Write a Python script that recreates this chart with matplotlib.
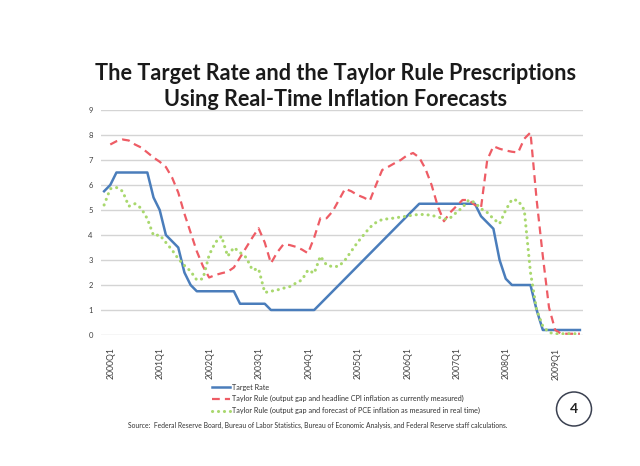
import numpy as np
import matplotlib
matplotlib.use("Agg")
from matplotlib import pyplot as plt
from matplotlib import patches, transforms

# one value per FOMC meeting (8 a year), 2000 to late 2009
target_rate = [5.75, 6.0, 6.5, 6.5, 6.5, 6.5, 6.5, 6.5,
               5.5, 5.0, 4.0, 3.75, 3.5, 2.5, 2.0, 1.75,
               1.75, 1.75, 1.75, 1.75, 1.75, 1.75, 1.25, 1.25,
               1.25, 1.25, 1.25, 1.0, 1.0, 1.0, 1.0, 1.0,
               1.0, 1.0, 1.0, 1.25, 1.5, 1.75, 2.0, 2.25,
               2.5, 2.75, 3.0, 3.25, 3.5, 3.75, 4.0, 4.25,
               4.5, 4.75, 5.0, 5.25, 5.25, 5.25, 5.25, 5.25,
               5.25, 5.25, 5.25, 5.25, 5.25, 4.75, 4.5, 4.25,
               3.0, 2.25, 2.0, 2.0, 2.0, 2.0, 1.0, 0.2,
               0.2, 0.2, 0.2, 0.2, 0.2, 0.2]

taylor_cpi = [np.nan, 7.62, 7.75, 7.82, 7.78, 7.62, 7.5, 7.3,
              7.1, 6.93, 6.72, 6.3, 5.7, 4.85, 4.1, 3.35,
              2.75, 2.3, 2.4, 2.47, 2.53, 2.7, 3.1, 3.5,
              3.9, 4.27, 3.7, 2.87, 3.3, 3.62, 3.6, 3.53,
              3.42, 3.27, 3.9, 4.67, 4.67, 4.95, 5.4, 5.85,
              5.75, 5.6, 5.5, 5.37, 6.0, 6.6, 6.73, 6.87,
              7.0, 7.18, 7.28, 7.1, 6.65, 6.0, 5.15, 4.55,
              4.9, 5.15, 5.4, 5.4, 5.2, 5.1, 7.0, 7.55,
              7.45, 7.38, 7.33, 7.3, 7.85, 8.1, 5.4, 3.15,
              1.1, 0.2, 0.05, 0.05, 0.05, 0.05]

taylor_pce = [5.2, 5.85, 5.9, 5.75, 5.15, 5.25, 5.07, 4.65,
              3.98, 4.0, 3.7, 3.4, 3.05, 2.78, 2.55, 2.2,
              2.25, 3.2, 3.7, 3.95, 3.15, 3.5, 3.3, 3.1,
              2.6, 2.65, 1.7, 1.75, 1.8, 1.87, 1.93, 2.07,
              2.2, 2.6, 2.47, 3.15, 2.8, 2.73, 2.75, 3.0,
              3.35, 3.7, 4.0, 4.3, 4.5, 4.62, 4.65, 4.68,
              4.72, 4.75, 4.8, 4.82, 4.82, 4.78, 4.73, 4.63,
              4.68, 4.9, 5.1, 5.4, 5.3, 5.05, 4.9, 4.65,
              4.45, 5.0, 5.42, 5.38, 5.0, 2.5, 1.0, 0.35,
              0.1, 0.05, 0.05, 0.05, 0.05, 0.05]

year_labels = ["2000Q1", "2001Q1", "2002Q1", "2003Q1", "2004Q1",
               "2005Q1", "2006Q1", "2007Q1", "2008Q1", "2009Q1"]

legend_labels = ["Target Rate",
                 "Taylor Rule (output gap and headline CPI inflation as currently measured)",
                 "Taylor Rule (output gap and forecast of PCE inflation as measured in real time)"]

plt.rcParams['font.family'] = ['Lato', 'DejaVu Sans']

fig = plt.figure(figsize=(6.4, 4.66), dpi=100)
ax = fig.add_axes([101 / 640, 1 - 335 / 466, 482 / 640, 225 / 466])

x = np.arange(len(target_rate))
l1, = ax.plot(x, target_rate, color="#4a7dbb", lw=1.8, solid_joinstyle="round")
l2, = ax.plot(x, taylor_cpi, color="#ee5c65", lw=1.6, dashes=[3.5, 2.3])
l3, = ax.plot(x, taylor_pce, color="#a9d86e", lw=2.2, dashes=[0.05, 1.9],
              dash_capstyle="round")

ax.set_xlim(-0.5, len(target_rate) - 0.5)
ax.set_ylim(0, 9)
ax.set_yticks(range(10))
ax.grid(axis="y", color="#d4d4d4", lw=1.0)
ax.set_axisbelow(True)
for s in ax.spines.values():
    s.set_visible(False)
ax.tick_params(length=0, labelsize=5.5, labelcolor="#404040")
ax.tick_params(axis="y", pad=6)

ax.set_xticks(range(0, len(target_rate), 8))
ax.set_xticklabels(year_labels, rotation=90, va="top", ha="center")
ax.tick_params(axis="x", pad=9, labelsize=6.2)
shift = transforms.ScaledTranslation(7 / 100, 0, fig.dpi_scale_trans)
for lab in ax.get_xticklabels():
    lab.set_transform(lab.get_transform() + shift)

fig.text(336 / 640, 1 - 73 / 466, "The Target Rate and the Taylor Rule Prescriptions",
         ha="center", va="center", fontsize=15.6, fontweight="bold", color="#1a1a1a")
fig.text(336 / 640, 1 - 99 / 466, "Using Real-Time Inflation Forecasts",
         ha="center", va="center", fontsize=15.6, fontweight="bold", color="#1a1a1a")

fig.legend([l1, l2, l3], legend_labels, loc="upper left",
           bbox_to_anchor=(208 / 640, 1 - 380 / 466), frameon=False,
           fontsize=5.2, handlelength=2.6, handletextpad=0.25, labelspacing=0.65,
           borderpad=0, labelcolor="#333333")

fig.text(128 / 640, 1 - 425 / 466,
         "Source:  Federal Reserve Board, Bureau of Labor Statistics, Bureau of Economic Analysis, "
         "and Federal Reserve staff calculations.",
         ha="left", va="center", fontsize=4.9, color="#333333")

fig.add_artist(patches.Ellipse((574 / 640, 1 - 409 / 466), 35 / 640, 34 / 466,
                               transform=fig.transFigure, fill=False,
                               ec="#3a4050", lw=1.1))
fig.text(574 / 640, 1 - 409 / 466, "4", ha="center", va="center",
         fontsize=10, fontweight="bold", color="#222222")

fig.savefig("out.png", dpi=100)
